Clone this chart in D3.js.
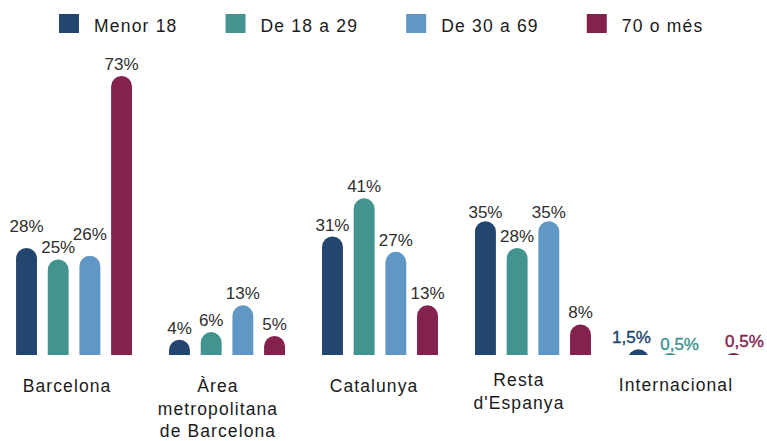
<!DOCTYPE html>
<html>
<head>
<meta charset="utf-8">
<script src="https://cdn.jsdelivr.net/npm/d3@7"></script>
<style>
  html, body { margin: 0; padding: 0; background: #fff; }
  svg { display: block; font-family: "Liberation Sans", Arial, Helvetica, sans-serif; }
</style>
</head>
<body>
<svg id="chart" width="767" height="441"></svg>
<script>
// Origen dels visitants per grup d'edat (%)
const categories = ["Barcelona", "Àrea metropolitana de Barcelona", "Catalunya", "Resta d'Espanya", "Internacional"];
const categoryLines = [["Barcelona"], ["Àrea", "metropolitana", "de Barcelona"], ["Catalunya"], ["Resta", "d'Espanya"], ["Internacional"]];
const seriesNames = ["Menor 18", "De 18 a 29", "De 30 a 69", "70 o més"];
const menor18 = [28, 4, 31, 35, 1.5];
const de18a29 = [25, 6, 41, 28, 0.5];
const de30a69 = [26, 13, 27, 35, 0];
const mes70   = [73, 5, 13, 8, 0.5];
const seriesValues = [menor18, de18a29, de30a69, mes70];
const colors = ["#23466f", "#439390", "#6197c5", "#85214d"];

// Small hand placements for labels that would otherwise collide
const labelNudge = {
  "Barcelona|Menor 18": [0, -9.5],
  "Barcelona|De 30 a 69": [0, -10],
  "Resta d'Espanya|Menor 18": [0, 2.5],
  "Resta d'Espanya|De 30 a 69": [0, 2.5],
  "Internacional|Menor 18": [-7, 0],
  "Internacional|De 18 a 29": [9.5, 3],
  "Internacional|70 o més": [11, 0]
};
const catLabelDx = [-7, -9, -6, -14, -10];
const catLabelY = [392, 392, 392, 386, 391];

const svg = d3.select("#chart");
const baseY = 355;

const x0 = d3.scaleBand().domain(categories).range([0, 760]).paddingInner(0.242).paddingOuter(0.105);
const x1 = d3.scaleBand().domain(seriesNames).range([0, x0.bandwidth()]).paddingInner(0.34);
const y = d3.scaleLinear().domain([0, 73]).range([baseY, 76]);
const color = d3.scaleOrdinal().domain(seriesNames).range(colors);

const locale = d3.formatLocale({ decimal: ",", thousands: ".", grouping: [3], currency: ["", "€"] });
const fmt = v => (Number.isInteger(v) ? locale.format("d")(v) : locale.format(".1f")(v)) + "%";

// Legend
const legend = svg.append("g").attr("class", "legend");
let lx = 59;
seriesNames.forEach((s, i) => {
  legend.append("rect").attr("x", lx).attr("y", 14).attr("width", 20).attr("height", 19).attr("fill", color(s));
  const t = legend.append("text").attr("x", lx + 35).attr("y", 32)
    .attr("font-size", 17.5).attr("letter-spacing", 1.2).attr("fill", "#1a1a1a").text(s);
  lx = lx + 35 + t.node().getComputedTextLength() + 48;
});

// Clip so that very short bars show only the top of their rounded cap
svg.append("defs").append("clipPath").attr("id", "base-clip")
  .append("rect").attr("x", 0).attr("y", 0).attr("width", 767).attr("height", baseY);

const rows = [];
categories.forEach((c, ci) => {
  seriesNames.forEach((s, si) => rows.push({ cat: c, ci, series: s, si, value: seriesValues[si][ci] }));
});

const barPath = d => {
  const x = x0(d.cat) + x1(d.series);
  const w = x1.bandwidth();
  const r = w / 2;
  const top = y(d.value);
  return `M${x},${baseY + r}V${top + r}A${r},${r} 0 0 1 ${x + w},${top + r}V${baseY + r}Z`;
};

svg.append("g").attr("clip-path", "url(#base-clip)")
  .selectAll("path").data(rows.filter(d => d.value > 0)).join("path")
  .attr("d", barPath)
  .attr("fill", d => color(d.series));

// Value labels
svg.append("g").selectAll("text").data(rows.filter(d => d.value > 0)).join("text")
  .attr("text-anchor", "middle")
  .attr("x", d => x0(d.cat) + x1(d.series) + x1.bandwidth() / 2 + (labelNudge[d.cat + "|" + d.series] || [0, 0])[0])
  .attr("y", d => y(d.value) - 6 + (labelNudge[d.cat + "|" + d.series] || [0, 0])[1])
  .attr("font-size", 17)
  .attr("fill", d => d.cat === "Internacional" ? color(d.series) : "#2e2e2e")
  .attr("stroke", d => d.cat === "Internacional" ? color(d.series) : "none")
  .attr("stroke-width", 0.4)
  .text(d => fmt(d.value));

// Category labels
const cl = svg.append("g").selectAll("text").data(categories).join("text")
  .attr("text-anchor", "middle")
  .attr("font-size", 17.5)
  .attr("letter-spacing", 1.1)
  .attr("fill", "#1a1a1a")
  .attr("x", (d, i) => x0(d) + x0.bandwidth() / 2 + catLabelDx[i])
  .attr("y", (d, i) => catLabelY[i]);
cl.each(function(d, i) {
  const t = d3.select(this);
  categoryLines[i].forEach((line, li) => {
    t.append("tspan").attr("x", x0(d) + x0.bandwidth() / 2 + catLabelDx[i])
      .attr("dy", li === 0 ? 0 : 22.5).text(line);
  });
});
</script>
</body>
</html>
